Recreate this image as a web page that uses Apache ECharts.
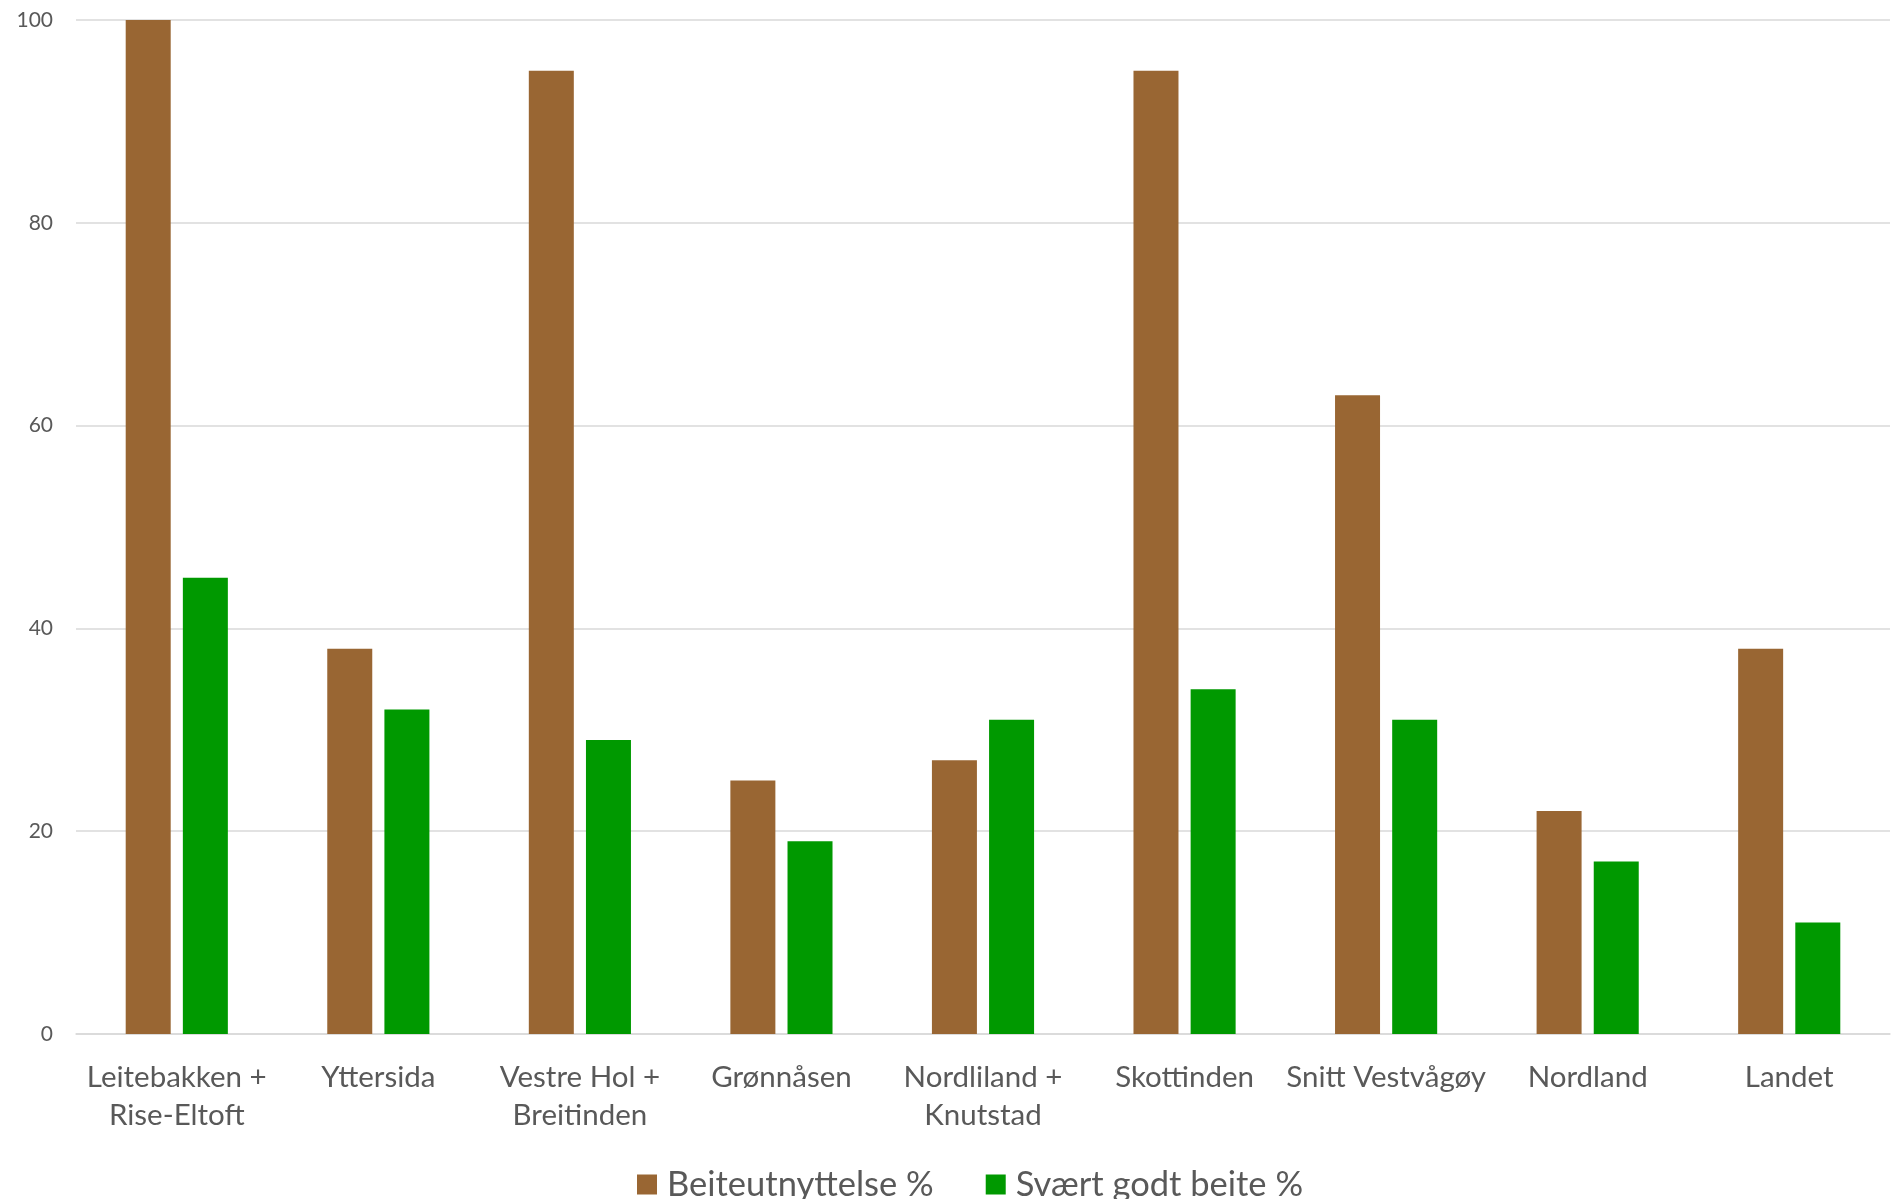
<!DOCTYPE html>
<html>
<head>
<meta charset="utf-8">
<script src="https://cdn.jsdelivr.net/npm/echarts@6/dist/echarts.min.js"></script>
<style>
html,body{margin:0;padding:0;background:#fff;}
#c{width:1895px;height:1199px;}
</style>
</head>
<body>
<div id="c"></div>
<script>
const categories = ['Leitebakken +\nRise-Eltoft','Yttersida','Vestre Hol +\nBreitinden','Grønnåsen','Nordliland +\nKnutstad','Skottinden','Snitt Vestvågøy','Nordland','Landet'];
const beiteutnyttelse = [100, 38, 95, 25, 27, 95, 63, 22, 38];
const svaertGodt = [45, 32, 29, 19, 31, 34, 31, 17, 11];
const seriesNames = ['Beiteutnyttelse %', 'Svært godt beite %'];

const FONT = 'Lato';
const chart = echarts.init(document.getElementById('c'));
chart.setOption({
  backgroundColor: '#ffffff',
  animation: false,
  grid: {left: 76, right: 5, top: 20, bottom: 165, containLabel: false},
  legend: {
    top: 1162,
    left: 632,
    itemWidth: 20,
    itemHeight: 20,
    itemGap: 52,
    icon: 'rect',
    textStyle: {fontFamily: FONT, fontSize: 34.5, color: '#595959', padding: [0,0,0,5]},
    data: seriesNames
  },
  xAxis: {
    type: 'category',
    data: categories,
    axisLine: {lineStyle: {color: '#d9d9d9', width: 1.5}},
    axisTick: {show: false},
    axisLabel: {fontFamily: FONT, fontSize: 29.5, color: '#595959', lineHeight: 38, margin: 24, interval: 0}
  },
  yAxis: {
    type: 'value',
    min: 0, max: 100, interval: 20,
    axisLine: {show: false},
    axisTick: {show: false},
    splitLine: {lineStyle: {color: '#d9d9d9', width: 1.5}},
    axisLabel: {fontFamily: FONT, fontSize: 21, color: '#595959', margin: 23}
  },
  series: [
    {name: seriesNames[0], type: 'bar', data: beiteutnyttelse, barWidth: 45, barGap: '27%',
     itemStyle: {color: '#996633'}},
    {name: seriesNames[1], type: 'bar', data: svaertGodt, barWidth: 45,
     itemStyle: {color: '#009900'}}
  ]
});
</script>
</body>
</html>
